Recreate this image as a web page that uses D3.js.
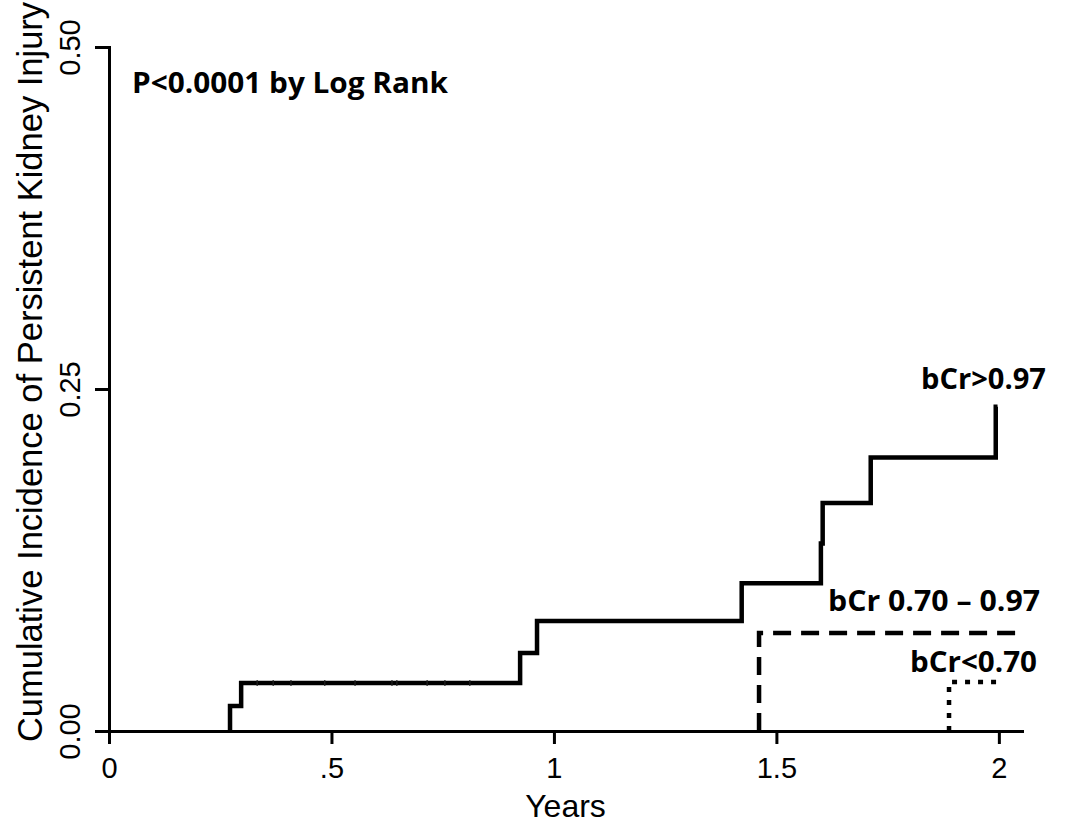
<!DOCTYPE html>
<html>
  <head>
    <meta charset="utf-8">
    <style type="text/css">
      body { margin: 0; background: #fff; }
      .axis path, .axis line { stroke: #000; stroke-width: 3; }
      .axis text { font-family: "Liberation Sans", Arial, sans-serif; font-size: 29px; fill: #000; }
      .curve { fill: none; stroke: #000; stroke-width: 4.5; stroke-linejoin: miter; stroke-linecap: butt; }
      .note { font-family: "Open Sans", sans-serif; font-weight: bold; font-size: 29px; fill: #000; }
      .title { font-family: "Liberation Sans", Arial, sans-serif; fill: #000; }
    </style>
  </head>
  <body>
    <script src="https://d3js.org/d3.v7.min.js"></script>
    <script>
      // x ticks (years) and y ticks (cumulative incidence)
      var xTicks = [0, 0.5, 1, 1.5, 2];
      var xTickLabels = ["0", ".5", "1", "1.5", "2"];
      var yTicks = [0, 0.25, 0.5];

      // bCr>0.97 : event times and cumulative incidence
      var hiTime = [0.272, 0.297, 0.924, 0.962, 1.422, 1.600, 1.604, 1.712, 1.993];
      var hiCum  = [0.0183, 0.0351, 0.057, 0.0804, 0.108, 0.137, 0.1667, 0.200, 0.237];
      var hiEnd  = 1.997;
      var hiCensor = [0.333, 0.369, 0.409, 0.485, 0.553, 0.636, 0.647, 0.715, 0.755, 0.811];

      // bCr 0.70 - 0.97
      var midTime = [1.461];
      var midCum  = [0.0716];
      var midEnd  = 2.052;

      // bCr<0.70
      var loTime = [1.888];
      var loCum  = [0.0358];
      var loEnd  = 2.011;

      var width = 1071, height = 827;
      var margin = {top: 47, left: 109, right: 49, bottom: 96};

      var svg = d3.select("body").append("svg")
          .attr("width", width)
          .attr("height", height);

      var x = d3.scaleLinear().domain([0, 2.052]).range([margin.left, width - margin.right]);
      var y = d3.scaleLinear().domain([0, 0.5]).range([height - margin.bottom, margin.top]);

      // axes
      svg.append("g")
          .attr("class", "axis")
          .attr("transform", "translate(0," + y(0) + ")")
          .call(d3.axisBottom(x)
            .tickValues(xTicks)
            .tickFormat(function(d, i) { return xTickLabels[i]; })
            .tickSize(13)
            .tickSizeOuter(0)
            .tickPadding(13));

      var ya = svg.append("g")
          .attr("class", "axis")
          .attr("transform", "translate(" + x(0) + ",0)")
          .call(d3.axisLeft(y)
            .tickValues(yTicks)
            .tickFormat(d3.format(".2f"))
            .tickSize(14)
            .tickSizeOuter(0));

      ya.selectAll(".tick text")
          .attr("x", 0)
          .attr("y", -29)
          .attr("dy", 0)
          .attr("transform", "rotate(-90)")
          .style("text-anchor", "middle");

      svg.selectAll(".axis .domain").attr("stroke-linecap", "square");

      // step curves
      function steps(times, cums, end) {
        var pts = [[times[0], 0]];
        times.forEach(function(t, i) { pts.push([t, cums[i]]); });
        pts.push([end, cums[cums.length - 1]]);
        return pts;
      }

      var line = d3.line()
          .x(function(d) { return x(d[0]); })
          .y(function(d) { return y(d[1]); })
          .curve(d3.curveStepAfter);

      svg.append("path")
          .attr("class", "curve")
          .attr("d", line(steps(hiTime, hiCum, hiEnd)));

      svg.append("path")
          .attr("class", "curve")
          .attr("stroke-dasharray", "18,10")
          .attr("d", line(steps(midTime, midCum, midEnd)));

      svg.append("path")
          .attr("class", "curve")
          .attr("stroke-dasharray", "5,8")
          .attr("d", line(steps(loTime, loCum, loEnd)));

      // censor marks on bCr>0.97 (very small)
      function cumAt(t) {
        var v = 0;
        hiTime.forEach(function(s, i) { if (s <= t) v = hiCum[i]; });
        return v;
      }
      svg.selectAll(".censor")
          .data(hiCensor)
        .enter().append("line")
          .attr("class", "censor")
          .attr("x1", function(d) { return x(d); })
          .attr("x2", function(d) { return x(d); })
          .attr("y1", function(d) { return y(cumAt(d)) - 3; })
          .attr("y2", function(d) { return y(cumAt(d)) + 3; })
          .attr("stroke", "#222")
          .attr("stroke-width", 1.2);

      // titles
      svg.append("text")
          .attr("class", "title")
          .attr("x", (x(0) + x(2.052)) / 2)
          .attr("y", 817)
          .attr("text-anchor", "middle")
          .style("font-size", "32px")
          .text("Years");

      svg.append("text")
          .attr("class", "title")
          .attr("transform", "translate(42," + 372 + ") rotate(-90)")
          .attr("text-anchor", "middle")
          .style("font-size", "34.5px")
          .text("Cumulative Incidence of Persistent Kidney Injury");

      // annotations
      svg.append("text").attr("class", "note")
          .attr("x", 132).attr("y", 93)
          .attr("textLength", 316).attr("lengthAdjust", "spacingAndGlyphs")
          .text("P<0.0001 by Log Rank");

      svg.append("text").attr("class", "note")
          .attr("x", 921).attr("y", 389)
          .attr("textLength", 125).attr("lengthAdjust", "spacingAndGlyphs")
          .text("bCr>0.97");

      svg.append("text").attr("class", "note")
          .attr("x", 828).attr("y", 611)
          .attr("textLength", 212).attr("lengthAdjust", "spacingAndGlyphs")
          .text("bCr 0.70 \u2013 0.97");

      svg.append("text").attr("class", "note")
          .attr("x", 910).attr("y", 672)
          .attr("textLength", 127).attr("lengthAdjust", "spacingAndGlyphs")
          .text("bCr<0.70");
    </script>
  </body>
</html>
